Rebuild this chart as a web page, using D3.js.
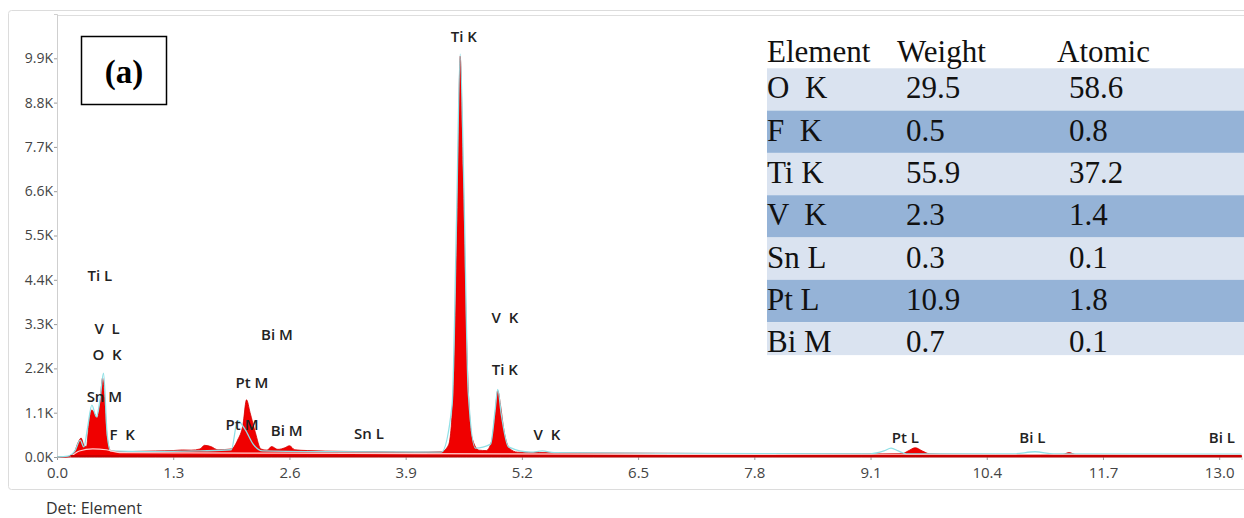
<!DOCTYPE html>
<html>
<head>
<meta charset="utf-8">
<script src="https://cdn.jsdelivr.net/npm/d3@7"></script>
<style>
  body { margin: 0; background: #fff; }
  svg { display: block; }
</style>
</head>
<body>
<div class="canvas"></div>
<script>
// spectrum (measured counts)
const specKeV = [0.00, 0.10, 0.15, 0.20, 0.24, 0.27, 0.30, 0.33, 0.36, 0.39, 0.42, 0.45, 0.48, 0.51, 0.53, 0.56, 0.60, 0.70, 0.90, 1.10, 1.30, 1.40, 1.50, 1.60, 1.65, 1.72, 1.80, 1.95, 2.02, 2.08, 2.12, 2.16, 2.22, 2.28, 2.35, 2.40, 2.47, 2.55, 2.60, 2.66, 2.80, 3.20, 3.60, 4.00, 4.30, 4.38, 4.44, 4.48, 4.51, 4.54, 4.58, 4.64, 4.72, 4.80, 4.86, 4.90, 4.93, 4.96, 5.00, 5.06, 5.15, 5.40, 6.00, 7.00, 8.00, 9.00, 9.45, 9.52, 9.60, 9.68, 9.76, 10.00, 11.00, 11.25, 11.32, 11.40, 12.00, 13.25];
const specCounts = [0, 0, 30, 150, 380, 470, 300, 260, 900, 1170, 1080, 970, 1300, 1960, 1500, 500, 160, 130, 140, 150, 160, 175, 170, 200, 290, 260, 180, 200, 420, 800, 1420, 1100, 600, 200, 170, 260, 190, 230, 280, 180, 160, 140, 130, 120, 130, 300, 2000, 6200, 9950, 7200, 3000, 500, 170, 160, 380, 1050, 1650, 1300, 650, 220, 120, 110, 100, 90, 80, 75, 80, 150, 230, 150, 80, 70, 60, 65, 110, 60, 50, 40];

// fitted spectrum (cyan)
const fitKeV = [0.0, 0.12, 0.2, 0.26, 0.3, 0.34, 0.39, 0.44, 0.48, 0.52, 0.56, 0.6, 1.0, 1.6, 1.95, 2.02, 2.1, 2.2, 2.3, 3.0, 4.3, 4.42, 4.47, 4.51, 4.55, 4.6, 4.68, 4.85, 4.9, 4.93, 4.97, 5.05, 5.3, 5.43, 5.56, 7.0, 9.1, 9.25, 9.33, 9.41, 9.5, 10.7, 10.94, 11.15, 13.25];
const fitCounts = [0, 20, 150, 420, 250, 700, 1290, 1000, 1400, 2080, 600, 150, 130, 150, 180, 900, 700, 300, 150, 130, 120, 1300, 6000, 10000, 6800, 1600, 220, 320, 1150, 1680, 1050, 250, 120, 150, 110, 90, 80, 150, 220, 150, 80, 80, 130, 80, 70];

// background estimate (pale line)
const bgKeV = [0.15, 0.25, 0.40, 0.55, 0.70, 1.5, 2.5, 4.0, 6.0, 9.0, 13.25];
const bgCounts = [0, 150, 200, 180, 110, 100, 95, 85, 70, 55, 45];

// peak labels
const peakNames = ['Ti K', 'Ti L', 'V  L', 'O  K', 'Sn M', 'F  K', 'Bi M', 'Pt M', 'Pt M', 'Bi M', 'Sn L', 'V  K', 'Ti K', 'V  K', 'Pt L', 'Bi L', 'Bi L'];
const peakKeV = [4.55, 0.48, 0.56, 0.56, 0.53, 0.73, 2.46, 2.18, 2.07, 2.57, 3.49, 5.01, 5.01, 5.48, 9.49, 10.91, 13.03];
const peakLabelCounts = [10300, 4370, 3050, 2410, 1365, 420, 2900, 1710, 670, 520, 450, 3325, 2035, 420, 350, 350, 350];

// axis ticks
const xTicks = [0, 1.3, 2.6, 3.9, 5.2, 6.5, 7.8, 9.1, 10.4, 11.7, 13.0];
const yTicks = [0, 1100, 2200, 3300, 4400, 5500, 6600, 7700, 8800, 9900];

// quantification table
const elements = ['O  K', 'F  K', 'Ti K', 'V  K', 'Sn L', 'Pt L', 'Bi M'];
const weights = ['29.5', '0.5', '55.9', '2.3', '0.3', '10.9', '0.7'];
const atomics = ['58.6', '0.8', '37.2', '1.4', '0.1', '1.8', '0.1'];

const width = 1244, height = 518;
const margin = { top: 14, right: 2, bottom: 61, left: 57 };
const sans = 'Open Sans, Noto Sans, sans-serif';
const serif = 'Liberation Serif, Times New Roman, serif';

const svg = d3.select('.canvas')
    .append('svg')
    .attr('width', width)
    .attr('height', height);

// outer frame
svg.append('rect')
    .attr('x', 8.5).attr('y', 10.5)
    .attr('width', 1250).attr('height', 479)
    .attr('rx', 3)
    .attr('fill', 'none')
    .attr('stroke', '#dcdcdc');

svg.append('line')
    .attr('x1', margin.left).attr('x2', width)
    .attr('y1', 15.5).attr('y2', 15.5)
    .attr('stroke', '#dedede');

const x = d3.scaleLinear()
    .domain([0, 13.25])
    .range([margin.left, margin.left + 13.25 * 89.4]);
const y = d3.scaleLinear()
    .domain([0, 11000])
    .range([height - margin.bottom, margin.top]);

// axes
const xAxis = d3.axisBottom(x)
    .tickValues(xTicks)
    .tickSize(3)
    .tickFormat(d => d.toFixed(1));
const yAxis = d3.axisLeft(y)
    .tickValues(yTicks)
    .tickSize(3)
    .tickFormat(d => (d / 1000).toFixed(1) + 'K');

const xAxisGroup = svg.append('g')
    .attr('transform', `translate(0, ${y(0)})`)
    .call(xAxis);
const yAxisGroup = svg.append('g')
    .attr('transform', `translate(${margin.left}, 0)`)
    .call(yAxis);

xAxisGroup.select('.domain').attr('stroke', '#cfcfcf');
yAxisGroup.select('.domain').attr('stroke', '#cfcfcf');
svg.selectAll('.tick line').attr('stroke', '#999');
xAxisGroup.selectAll('text')
    .attr('dy', '1.0em')
    .attr('font-family', sans)
    .attr('font-size', 15)
    .attr('fill', '#444');
yAxisGroup.selectAll('text')
    .attr('x', -4)
    .attr('font-family', sans)
    .attr('font-size', 14)
    .attr('fill', '#444');

// spectrum layers
const spec = specKeV.map((k, i) => ({ k, c: specCounts[i] }));
const fit = fitKeV.map((k, i) => ({ k, c: fitCounts[i] }));
const bg = bgKeV.map((k, i) => ({ k, c: bgCounts[i] }));

const area = d3.area()
    .x(d => x(d.k))
    .y0(y(0))
    .y1(d => y(d.c))
    .curve(d3.curveMonotoneX);
const line = d3.line()
    .x(d => x(d.k))
    .y(d => y(d.c))
    .curve(d3.curveMonotoneX);

svg.append('path')
    .datum(spec)
    .attr('d', area)
    .attr('fill', '#f00000')
    .attr('stroke', '#d40000')
    .attr('stroke-width', 0.8);

svg.append('path')
    .datum(fit)
    .attr('d', line)
    .attr('fill', 'none')
    .attr('stroke', '#8fe0e6')
    .attr('stroke-width', 1.3);

svg.append('path')
    .datum(bg)
    .attr('d', line)
    .attr('fill', 'none')
    .attr('stroke', '#ffd0d0')
    .attr('stroke-width', 1.2);

// baseline strip
svg.append('line')
    .attr('x1', x(0.15)).attr('x2', x(13.25))
    .attr('y1', y(0) - 1).attr('y2', y(0) - 1)
    .attr('stroke', '#c80000')
    .attr('stroke-width', 2);

// peak labels
svg.append('g')
    .selectAll('text')
    .data(peakNames)
    .enter()
    .append('text')
    .attr('x', (d, i) => x(peakKeV[i]))
    .attr('y', (d, i) => y(peakLabelCounts[i]))
    .attr('text-anchor', 'middle')
    .attr('font-family', sans)
    .attr('font-weight', 600)
    .attr('font-size', 15)
    .attr('fill', '#222')
    .style('white-space', 'pre')
    .text(d => d);

// (a) label box
svg.append('rect')
    .attr('x', 81.5).attr('y', 36.5)
    .attr('width', 85).attr('height', 68)
    .attr('fill', '#fff')
    .attr('stroke', '#000')
    .attr('stroke-width', 1.5);
svg.append('text')
    .attr('x', 124).attr('y', 83)
    .attr('text-anchor', 'middle')
    .attr('font-family', serif)
    .attr('font-weight', 'bold')
    .attr('font-size', 33)
    .text('(a)');

// table
const table = svg.append('g');
const tableX = 767, rowTop = 68.3, rowH = 42.3;

table.selectAll('rect')
    .data(elements)
    .enter()
    .append('rect')
    .attr('x', tableX)
    .attr('y', (d, i) => rowTop + i * rowH)
    .attr('width', width - tableX)
    .attr('height', (d, i) => i === elements.length - 1 ? 33 : rowH)
    .attr('fill', (d, i) => i % 2 === 0 ? '#dae3f0' : '#95b3d7');

const headers = ['Element', 'Weight', 'Atomic'];
const headerX = [767, 897, 1057];
table.selectAll('text.head')
    .data(headers)
    .enter()
    .append('text')
    .attr('class', 'head')
    .attr('x', (d, i) => headerX[i])
    .attr('y', 62)
    .attr('font-family', serif)
    .attr('font-size', 31)
    .attr('fill', '#111')
    .text(d => d);

const cols = [elements, weights, atomics];
const colX = [767, 906, 1069];
cols.forEach((col, c) => {
    table.selectAll('text.c' + c)
        .data(col)
        .enter()
        .append('text')
        .attr('class', 'c' + c)
        .attr('x', colX[c])
        .attr('y', (d, i) => rowTop + i * rowH + 30)
        .attr('font-family', serif)
        .attr('font-size', 31)
        .attr('fill', '#111')
        .style('white-space', 'pre')
        .text(d => d);
});

// footer
svg.append('text')
    .attr('x', 46).attr('y', 514)
    .attr('font-family', sans)
    .attr('font-size', 16)
    .attr('fill', '#333')
    .text('Det: Element');
</script>
</body>
</html>
